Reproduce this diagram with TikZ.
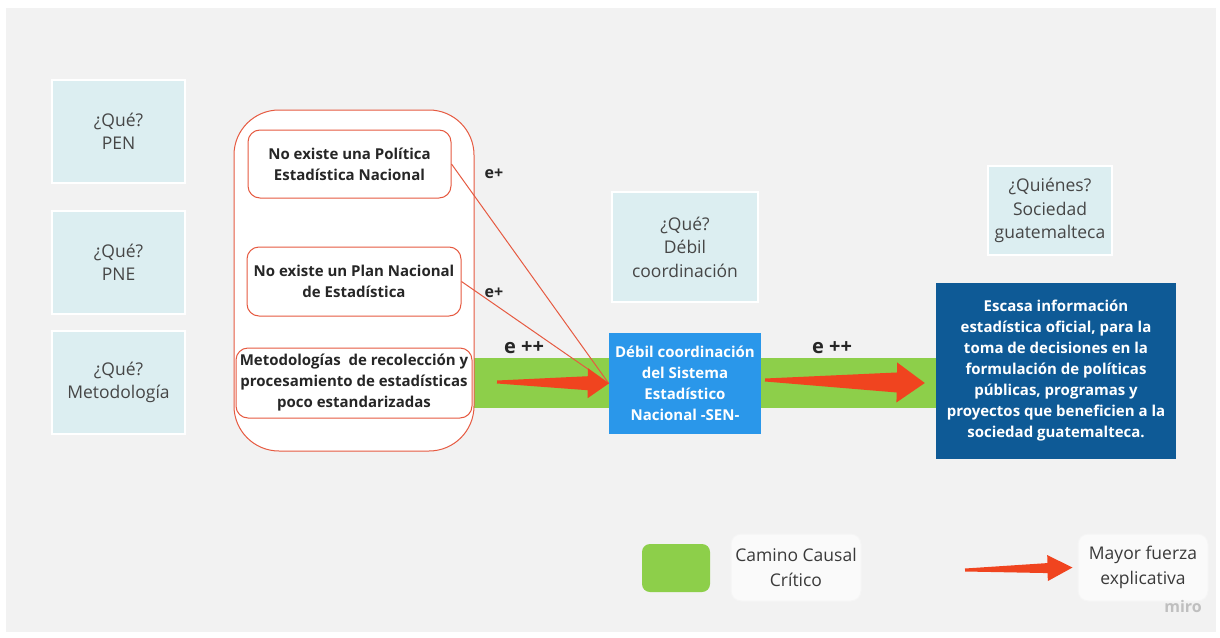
\documentclass[tikz,border=0pt]{standalone}
\usepackage{fontspec}
\setmainfont{Open Sans}
\usetikzlibrary{calc}
\definecolor{bgc}{HTML}{F2F2F2}
\definecolor{que}{HTML}{DCEEF1}
\definecolor{quetext}{HTML}{464646}
\definecolor{redline}{HTML}{E65A41}
\definecolor{arrred}{HTML}{F0441F}
\definecolor{critgreen}{HTML}{8DCF4A}
\definecolor{senblue}{HTML}{2A97EA}
\definecolor{darkblue}{HTML}{0E5A96}
\definecolor{boxtext}{HTML}{262626}
\definecolor{legtext}{HTML}{3A3A3A}
\newcommand\fatarrow[5]{%
  \coordinate (fab) at ($(#2)!#3!(#1)$);
  \fill[arrred] ($(#1)!1.5pt!90:(#2)$) -- ($(fab)!#5!90:(#2)$) -- ($(fab)!#4!90:(#2)$) -- (#2)
    -- ($(fab)!#4!-90:(#2)$) -- ($(fab)!#5!-90:(#2)$) -- ($(#1)!1.5pt!-90:(#2)$) -- cycle;}
\tikzset{
  quebox/.style={fill=que, draw=white, line width=1.5pt, align=center, text=quetext,
    font=\fontsize{17.5}{23.5}\selectfont, inner sep=0pt},
  causebox/.style={fill=white, draw=redline, line width=1pt, rounded corners=12, align=center,
    text=boxtext, font=\fontsize{15}{21}\selectfont\bfseries, inner sep=1pt},
  bluebox/.style={align=center, text=white, font=\fontsize{15}{21}\selectfont\bfseries, inner sep=1pt},
  elabel/.style={text=boxtext, font=\fontsize{16}{18}\selectfont\bfseries, inner sep=0pt},
  eelabel/.style={text=boxtext, font=\fontsize{20}{22}\selectfont\bfseries, inner sep=0pt},
  legbox/.style={fill=white!60!bgc, draw=white!80!gray!40, line width=1pt, rounded corners=10,
    align=center, text=legtext, font=\fontsize{17.5}{25}\selectfont, minimum width=130, minimum height=67, inner sep=0pt},
  thinred/.style={draw=redline, line width=1pt}
}
\begin{document}
\begin{tikzpicture}[x=1pt,y=-1pt]
\useasboundingbox (0,0) rectangle (1220,637);
\fill[white] (0,0) rectangle (1220,637);
\fill[bgc] (6,8) rectangle (1216,632);
% critical path band
\fill[critgreen] (474,358) rectangle (936,408);
% question boxes
\node[quebox, minimum width=133, minimum height=103] (que1) at (118.5,131.5) {¿Qué?\\PEN};
\node[quebox, minimum width=133, minimum height=103] (que2) at (118.5,262.5) {¿Qué?\\PNE};
\node[quebox, minimum width=133, minimum height=103] (que3) at (118.5,382.5) {¿Qué?\\Metodología};
\node[quebox, minimum width=146, minimum height=110] (que4) at (685,247) {¿Qué?\\Débil\\coordinación};
\node[quebox, minimum width=124, minimum height=89] (que5) at (1050,210.5) {¿Quiénes?\\Sociedad\\guatemalteca};
% container of causes
\node[fill=white, draw=redline, line width=1pt, rounded corners=45, minimum width=240, minimum height=341] (cont) at (354,280.5) {};
\node[causebox, minimum width=203, minimum height=68] (b1) at (349.5,164) {No existe una Política\\Estadística Nacional};
\node[causebox, minimum width=214, minimum height=69] (b2) at (354,281.5) {No existe un Plan Nacional\\de Estadística};
\node[causebox, minimum width=236, minimum height=70] (b3) at (354,383) {Metodologías\ \ de recolección y\\procesamiento de estadísticas\\poco estandarizadas};
% central and effect boxes
\node[bluebox, fill=senblue, minimum width=152, minimum height=101] (sen) at (685,383.5) {Débil coordinación\\del Sistema\\Estadístico\\Nacional -SEN-};
\node[bluebox, fill=darkblue, minimum width=240, minimum height=176] (esc) at (1056,371) {Escasa información\\estadística oficial, para la\\toma de decisiones en la\\formulación de políticas\\públicas, programas y\\proyectos que beneficien a la\\sociedad guatemalteca.};
% thin connectors
\draw[thinred] (b1.east) -- (sen.west);
\draw[thinred] (b2.east) -- (sen.west);
% fat arrows
\coordinate (t1) at (497,382);
\fatarrow{t1}{sen.west}{21pt}{15pt}{7pt}
\coordinate (t2) at (765,380);
\coordinate (h2) at ($(esc.west)+(-11,12)$);
\fatarrow{t2}{h2}{28pt}{20pt}{10pt}
% labels
\node[elabel] (l1) at (494,174) {e+};
\node[elabel] (l2) at (494,293) {e+};
\node[eelabel] (l3) at (524,348) {e ++};
\node[eelabel] (l4) at (832,348) {e ++};
% legend
\fill[critgreen, rounded corners=8] (642,544) rectangle (710,592);
\node[legbox] (lg1) at (796,567.5) {Camino Causal\\Crítico};
\node[legbox] (lg2) at (1143,567.5) {Mayor fuerza\\explicativa};
\coordinate (t3) at (965,570);
\coordinate (h3) at ($(lg2.west)+(-5,0)$);
\fatarrow{t3}{h3}{25pt}{13pt}{5pt}
\node[text=gray!50, font=\fontsize{16}{18}\selectfont\bfseries] (miro) at (1183,606) {miro};
\end{tikzpicture}
\end{document}
